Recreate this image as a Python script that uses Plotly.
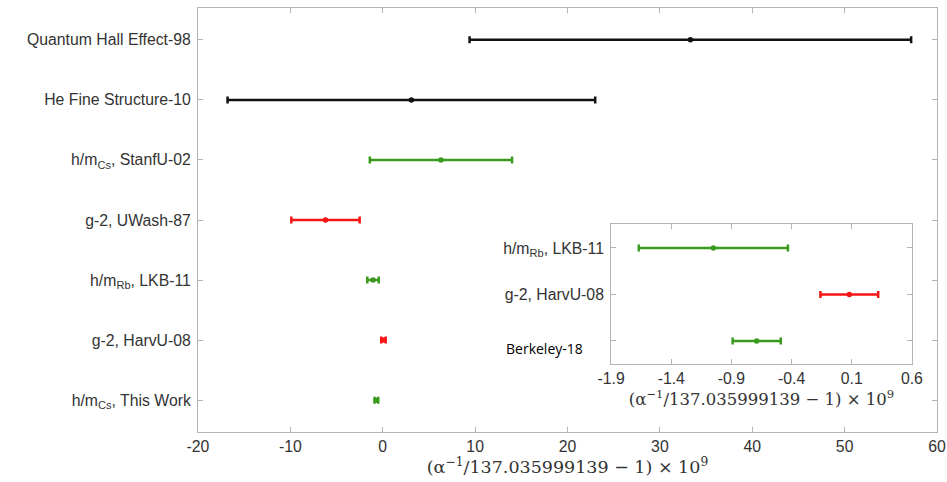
import plotly.graph_objects as go

# ---- data ----
main_labels = ["Quantum Hall Effect-98", "He Fine Structure-10", "h/m<sub>Cs</sub>, StanfU-02",
               "g-2, UWash-87", "h/m<sub>Rb</sub>, LKB-11", "g-2, HarvU-08", "h/m<sub>Cs</sub>, This Work"]
main_values = [33.3, 3.1, 6.3, -6.2, -1.05, 0.08, -0.69]
main_errors = [23.9, 19.9, 7.7, 3.7, 0.62, 0.24, 0.20]
main_colors = ["black", "black", "green", "red", "green", "red", "green"]

inset_labels = ["h/m<sub>Rb</sub>, LKB-11", "g-2, HarvU-08", ""]
inset_values = [-1.05, 0.08, -0.69]
inset_errors = [0.62, 0.24, 0.20]
inset_colors = ["green", "red", "green"]
inset_extra_label = "Berkeley-18"

main_xticks = [-20, -10, 0, 10, 20, 30, 40, 50, 60]
inset_xticks = [-1.9, -1.4, -0.9, -0.4, 0.1, 0.6]

palette = {"black": "#111111", "green": "#3a9a1e", "red": "#f51515"}
axis_title = "(α<sup>−1</sup>/137.035999139 − 1) × 10<sup>9</sup>"

fig = go.Figure()

n = len(main_labels)
main_pos = list(range(n, 0, -1))
for lab, v, e, c, p in zip(main_labels, main_values, main_errors, main_colors, main_pos):
    col = palette[c]
    fig.add_trace(go.Scatter(
        x=[v], y=[p], mode="markers", xaxis="x", yaxis="y",
        marker=dict(color=col, size=5.5),
        error_x=dict(type="data", array=[e], color=col, thickness=2.5, width=3.5),
        showlegend=False, hoverinfo="skip"))

m = len(inset_labels)
inset_pos = list(range(m, 0, -1))
for lab, v, e, c, p in zip(inset_labels, inset_values, inset_errors, inset_colors, inset_pos):
    col = palette[c]
    fig.add_trace(go.Scatter(
        x=[v], y=[p], mode="markers", xaxis="x2", yaxis="y2",
        marker=dict(color=col, size=5.5),
        error_x=dict(type="data", array=[e], color=col, thickness=2.5, width=3.5),
        showlegend=False, hoverinfo="skip"))

line_col = "#b4b4b4"
tick_font = dict(family="Liberation Sans, Arial, sans-serif", size=15.8, color="#333333")
title_font = dict(family="DejaVu Serif, serif", size=17.5, color="#333333")

common = dict(showline=True, linecolor=line_col, linewidth=1, mirror="ticks",
              ticks="inside", ticklen=5, tickcolor=line_col, showgrid=False, zeroline=False,
              tickfont=tick_font, automargin=False)

fig.update_layout(
    width=947, height=482,
    margin=dict(l=198, r=10, t=8, b=50),
    paper_bgcolor="white", plot_bgcolor="white",
    xaxis=dict(domain=[0, 1], range=[-20, 60], tickvals=main_xticks,
               ticktext=[str(t) for t in main_xticks],
               title=dict(text=axis_title, font=title_font, standoff=3), **common),
    yaxis=dict(domain=[0, 1], range=[0.47, 7.53], tickvals=main_pos, ticktext=main_labels,
               ticklabelstandoff=3, **common),
    xaxis2=dict(domain=[0.559, 0.966], anchor="y2", range=[-1.9, 0.6], tickvals=inset_xticks,
                ticktext=[f"{t:.1f}" for t in inset_xticks],
                title=dict(text=axis_title, font=dict(title_font, size=16.5), standoff=1), **common),
    yaxis2=dict(domain=[0.160, 0.491], anchor="x2", range=[0.5, 3.52], tickvals=inset_pos,
                ticktext=inset_labels, ticklabelstandoff=3, **common),
    annotations=[dict(text=inset_extra_label, xref="x2 domain", yref="y2 domain",
                      x=-0.086, y=0.114, xanchor="right", yanchor="middle", showarrow=False,
                      font=dict(family="Open Sans, sans-serif", size=14, color="black"))],
)

fig.write_html("out.html")
